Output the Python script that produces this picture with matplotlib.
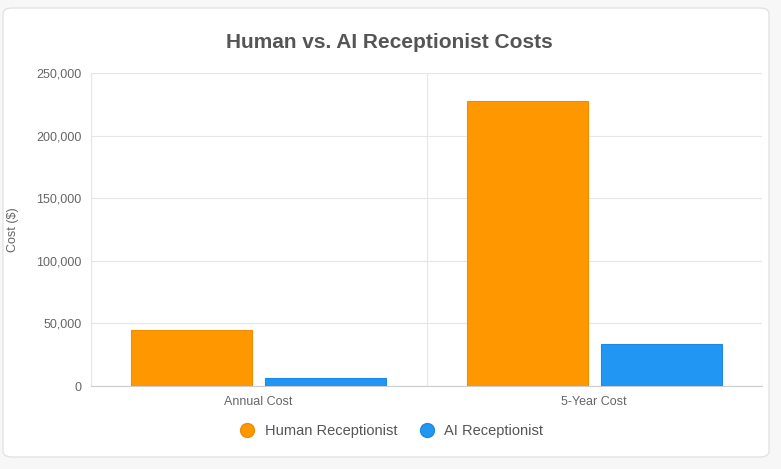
import matplotlib
matplotlib.use("Agg")
import matplotlib.pyplot as plt
from matplotlib.patches import FancyBboxPatch
from matplotlib.lines import Line2D

plt.rcParams["font.family"] = "Liberation Sans"

categories = ["Annual Cost", "5-Year Cost"]
human = [45000, 228000]
ai = [6500, 33500]
yticks = [0, 50000, 100000, 150000, 200000, 250000]

W, H = 781, 469
fig = plt.figure(figsize=(W/100, H/100), dpi=100)
fig.patch.set_facecolor("#f7f7f7")
card = FancyBboxPatch((3/W, 12/H), 766/W, 449/H, boxstyle="round,pad=0,rounding_size=0.012",
                      transform=fig.transFigure, facecolor="white", edgecolor="#e3e3e3", lw=1, zorder=-5)
fig.patches.append(card)

ax = fig.add_axes([91/W, 1-386/H, (762-91)/W, (386-73)/H])
ax.set_facecolor("none")
x = list(range(len(categories)))
ax.bar([i-0.2 for i in x], human, width=0.36, color="#ff9800", edgecolor="#f08c00", lw=0.8, zorder=3)
ax.bar([i+0.2 for i in x], ai, width=0.36, color="#2196f3", edgecolor="#1e88e5", lw=0.8, zorder=3)
ax.set_xlim(-0.5, 1.5)
ax.set_ylim(0, 250000)
ax.set_yticks(yticks)
ax.set_yticklabels([f"{v:,}" for v in yticks], color="#666", fontsize=9)
ax.set_xticks(x)
ax.set_xticklabels(categories, color="#666", fontsize=9)
ax.grid(axis="y", color="#e6e6e6", lw=0.8, zorder=0)
for b in [-0.5, 0.5, 1.5]:
    ax.axvline(b, color="#e6e6e6", lw=0.8, zorder=0)
for s in ["top", "right"]:
    ax.spines[s].set_visible(False)
ax.spines["left"].set_color("#e6e6e6")
ax.spines["bottom"].set_color("#cccccc")
ax.tick_params(length=0, pad=7)
ax.set_ylabel("Cost ($)", color="#666", fontsize=9, labelpad=12)

fig.text(389/W, 1-42/H, "Human vs. AI Receptionist Costs", ha="center", va="center",
         fontsize=15, fontweight="bold", color="#555")
handles = [Line2D([], [], marker="o", ls="", markersize=10, markerfacecolor="#ff9800", markeredgecolor="#f08c00"),
           Line2D([], [], marker="o", ls="", markersize=10, markerfacecolor="#2196f3", markeredgecolor="#1e88e5")]
fig.legend(handles, ["Human Receptionist", "AI Receptionist"], loc="center", bbox_to_anchor=(388/W, 1-431/H),
           ncol=2, frameon=False, fontsize=10.5, labelcolor="#555", handletextpad=0.2, columnspacing=1.0)
fig.savefig("out.png", dpi=100, facecolor=fig.get_facecolor())
